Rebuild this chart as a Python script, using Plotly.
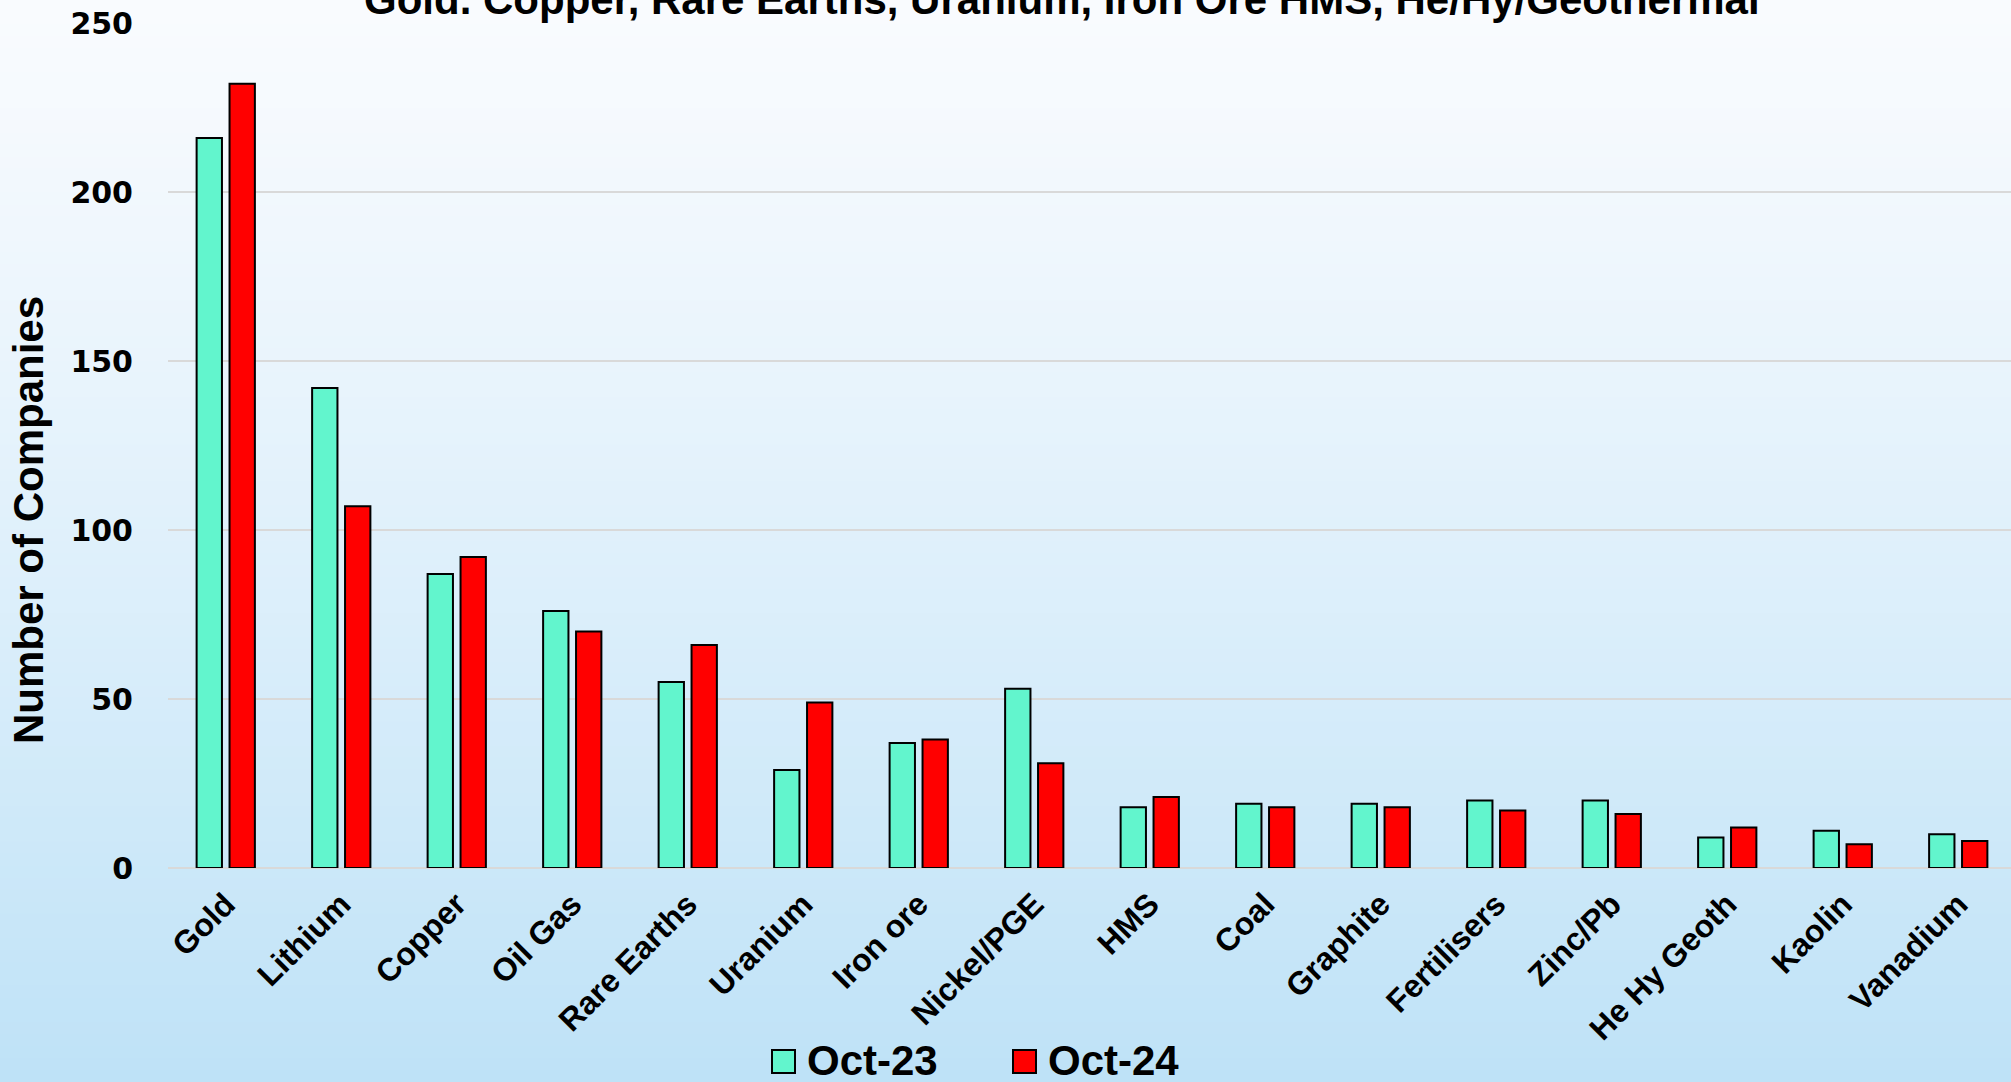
import plotly.graph_objects as go

# ---- data ----
categories = ["Gold", "Lithium", "Copper", "Oil Gas", "Rare Earths", "Uranium", "Iron ore",
              "Nickel/PGE", "HMS", "Coal", "Graphite", "Fertilisers", "Zinc/Pb",
              "He Hy Geoth", "Kaolin", "Vanadium"]
series_names = ["Oct-23", "Oct-24"]
oct23 = [216, 142, 87, 76, 55, 29, 37, 53, 18, 19, 19, 20, 20, 9, 11, 10]
oct24 = [232, 107, 92, 70, 66, 49, 38, 31, 21, 18, 18, 17, 16, 12, 7, 8]
y_ticks = [0, 50, 100, 150, 200, 250]
title_text = "Gold. Copper, Rare Earths, Uranium, Iron Ore HMS, He/Hy/Geothermal"
y_title = "Number of Companies"

colors = ["#62F5CD", "#FF0000"]

W, H = 2011, 1082
ML, MT = 168, 23
MB = H - 868
PW = W - ML
PH = H - MT - MB
cat_w = 115.5


def px_x(px):
    return (px - ML) / PW


def px_y(py):
    return (H - MB - py) / PH


fig = go.Figure()
for name, vals, col in zip(series_names, [oct23, oct24], colors):
    fig.add_trace(go.Bar(
        x=categories, y=vals, name=name,
        marker=dict(color=col, line=dict(color="#000000", width=2)),
        showlegend=False,
    ))

# gradient background bands
shapes = []
n = 90
top = (249, 251, 254)
bot = (190, 226, 247)
for i in range(n):
    y0p = i * H / n
    y1p = (i + 1) * H / n + 1
    t = ((i + 0.5) / n) ** 1.2
    c = tuple(round(top[k] + (bot[k] - top[k]) * t) for k in range(3))
    shapes.append(dict(type="rect", xref="paper", yref="paper", layer="below",
                       x0=-0.2, x1=1.2, y0=px_y(y1p), y1=px_y(y0p),
                       fillcolor="rgb(%d,%d,%d)" % c, line=dict(width=0)))

# manual legend
annotations = []
leg_items = [(772, 805), (1013, 1046)]
for (sq_x, tx_x), name, col in zip(leg_items, series_names, colors):
    shapes.append(dict(type="rect", xref="paper", yref="paper", layer="above",
                       x0=px_x(sq_x), x1=px_x(sq_x + 23), y0=px_y(1073), y1=px_y(1050),
                       fillcolor=col, line=dict(color="#000000", width=2)))
    annotations.append(dict(text=name, xref="paper", yref="paper", x=px_x(tx_x), y=px_y(1060),
                            xanchor="left", yanchor="middle", showarrow=False,
                            font=dict(family="Liberation Sans, Arial", size=42, color="#000000", weight=700)))

# title (cut off at top as in reference)
annotations.append(dict(text=title_text, xref="paper", yref="paper", x=px_x(1062), y=px_y(25),
                        xanchor="center", yanchor="bottom", showarrow=False,
                        font=dict(family="Liberation Sans, Arial", size=42, color="#000000", weight=700)))

# y-axis title
annotations.append(dict(text=y_title, xref="paper", yref="paper", x=px_x(28), y=px_y(520),
                        xanchor="center", yanchor="middle", textangle=-90, showarrow=False,
                        font=dict(family="Liberation Sans, Arial", size=42, color="#000000", weight=700)))

fig.update_layout(
    width=W, height=H, autosize=False,
    margin=dict(l=ML, r=0, t=MT, b=MB, pad=0),
    paper_bgcolor="rgba(0,0,0,0)", plot_bgcolor="rgba(0,0,0,0)",
    barmode="group", bargap=0.43, bargroupgap=0.23,
    shapes=shapes, annotations=annotations,
    showlegend=False,
)
fig.update_xaxes(
    range=[-0.5, -0.5 + PW / cat_w], showgrid=False, showline=False, zeroline=False,
    tickangle=-45, ticks="", ticklabelstandoff=10,
    tickfont=dict(family="Liberation Sans, Arial", size=32, color="#000000", weight=700),
)
fig.update_yaxes(
    range=[0, 250], tickvals=y_ticks, showgrid=True, gridcolor="#D9D9D9", gridwidth=2,
    zeroline=True, zerolinecolor="#D9D9D9", zerolinewidth=2, showline=False, ticks="",
    ticklabelstandoff=34,
    tickfont=dict(family="DejaVu Sans", size=30, color="#000000", weight=700),
)

fig.write_html("out.html", config={"displayModeBar": False})

# remove the browser's default page margin so the figure fills the window exactly
with open("out.html", "r", encoding="utf-8") as f:
    html = f.read()
html = html.replace("<body>", '<body style="margin:0;padding:0;overflow:hidden;background:#bee2f7">', 1)
with open("out.html", "w", encoding="utf-8") as f:
    f.write(html)
